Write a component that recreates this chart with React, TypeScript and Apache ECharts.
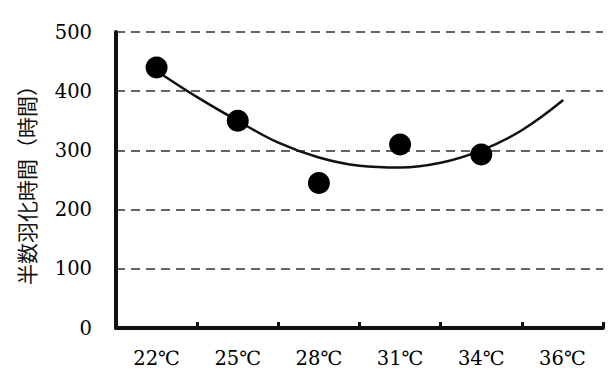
import React, { useEffect, useRef } from "react";
import * as echarts from "echarts";

const categories = ["22℃", "25℃", "28℃", "31℃", "34℃", "36℃"];
const measured = [440, 350, 245, 310, 293, null];
// fitted curve: position in category units (0 = 22℃ centre) and value
const curveX = [0.08, 0.5, 1.0, 1.5, 2.0, 2.5, 3.0, 3.5, 4.0, 4.5, 5.01];
const curveY = [427, 390, 350, 313, 288, 274, 271, 279, 300, 334, 385];
const yTicks = { min: 0, max: 500, interval: 100 };
const yName = "半数羽化時間（時間）";

export default function App() {
  const ref = useRef<HTMLDivElement>(null);
  useEffect(() => {
    if (!ref.current) return;
    const chart = echarts.init(ref.current, null, { renderer: "svg" });
    const labelFont = {
      fontFamily: "DejaVu Serif",
      fontSize: 19.5,
      color: "#000",
    };
    chart.setOption({
      animation: false,
      backgroundColor: "#fff",
      grid: { left: 116, right: 10, top: 32, bottom: 48 },
      xAxis: [
        {
          type: "category",
          data: categories,
          boundaryGap: true,
          axisLine: { show: true, lineStyle: { color: "#111", width: 4 } },
          axisTick: { show: true, inside: true, length: 6, lineStyle: { color: "#111", width: 3 } },
          axisLabel: { margin: 20, ...labelFont },
          splitLine: { show: false },
        },
        {
          type: "value",
          min: -0.5,
          max: 5.5,
          show: false,
          position: "bottom",
        },
      ],
      yAxis: {
        type: "value",
        min: yTicks.min,
        max: yTicks.max,
        interval: yTicks.interval,
        name: yName,
        nameLocation: "middle",
        nameRotate: 90,
        nameGap: 80,
        nameTextStyle: {
          fontFamily: "Noto Sans CJK JP",
          fontSize: 21,
          color: "#111",
        },
        axisLine: { show: true, onZero: false, lineStyle: { color: "#111", width: 4 } },
        axisTick: { show: false },
        axisLabel: { margin: 24, ...labelFont },
        splitLine: {
          show: true,
          lineStyle: { color: "#333", width: 1.5, type: [9, 6] },
        },
      },
      series: [
        {
          type: "line",
          xAxisIndex: 1,
          data: curveX.map((x, i) => [x, curveY[i]]),
          smooth: 0.4,
          symbol: "none",
          lineStyle: { color: "#111", width: 2.5 },
          z: 2,
        },
        {
          type: "scatter",
          xAxisIndex: 0,
          data: measured,
          symbolSize: 22,
          itemStyle: { color: "#000", opacity: 1 },
          z: 3,
        },
      ],
    });
    return () => chart.dispose();
  }, []);
  return (
    <div
      ref={ref}
      style={{ position: "absolute", left: 0, top: 0, width: 613, height: 376 }}
    />
  );
}
